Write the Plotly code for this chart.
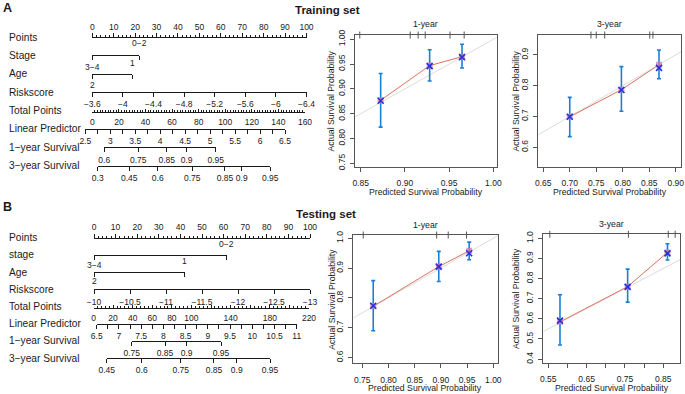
import plotly.graph_objects as go

FONT = "Liberation Sans, Arial, Helvetica, sans-serif"
W, H = 685, 394
INK = "#1a1a1a"
BOX = "#555555"

# ======================= DATA =======================
# ---- Nomogram, training set (A) ----
A_points_ticks = [0, 10, 20, 30, 40, 50, 60, 70, 80, 90, 100]
A_stage_points = [0, 22.0]
A_stage_labels = ["", "0−2"]
A_age_points = [0, 18.7]
A_age_labels = ["3−4", "1"]
A_risk_values = [-3.6, -4.0, -4.4, -4.8, -5.2, -5.6, -6.0, -6.4]
A_risk_labels = ["−3.6", "−4", "−4.4", "−4.8", "−5.2", "−5.6", "−6", "−6.4"]
A_risk_top_label = "2"
A_total_ticks = [0, 20, 40, 60, 80, 100, 120, 140, 160]
A_total_labels = ["0", "20", "40", "60", "80", "100", "120", "140", "160"]
A_lp_ticks = [2.5, 3, 3.5, 4, 4.5, 5, 5.5, 6, 6.5]
A_lp_labels = ["2.5", "3", "3.5", "4", "4.5", "5", "5.5", "6", "6.5"]
A_surv1_labels = ["0.6", "0.75", "0.85", "0.9", "0.95"]
A_surv1_total = [9.0, 34.6, 56.0, 71.0, 92.8]
A_surv3_labels = ["0.3", "0.45", "0.6", "0.75", "0.85", "0.9", "0.95"]
A_surv3_total = [4.1, 27.8, 49.2, 75.2, 99.8, 112.4, 133.8]

# ---- Nomogram, testing set (B) ----
B_points_ticks = [0, 10, 20, 30, 40, 50, 60, 70, 80, 90, 100]
B_stage_points = [0, 61.4]
B_stage_labels = ["", "0−2"]
B_age_points = [0, 42.1]
B_age_labels = ["3−4", "1"]
B_risk_values = [-10, -10.5, -11, -11.5, -12, -12.5, -13]
B_risk_labels = ["−10", "−10.5", "−11", "−11.5", "−12", "−12.5", "−13"]
B_risk_top_label = "2"
B_total_ticks = [0, 20, 40, 60, 80, 100, 120, 140, 160, 180, 200, 220]
B_total_labels = ["0", "20", "40", "60", "80", "100", "", "140", "", "180", "", "220"]
B_lp_ticks = [6.5, 7, 7.5, 8, 8.5, 9, 9.5, 10, 10.5, 11]
B_lp_labels = ["6.5", "7", "7.5", "8", "8.5", "9", "9.5", "10", "10.5", "11"]
B_surv1_labels = ["0.75", "0.85", "0.9", "0.95"]
B_surv1_total = [39.0, 73.0, 95.1, 130.2]
B_surv3_labels = ["0.45", "0.6", "0.75", "0.85", "0.9", "0.95"]
B_surv3_total = [13.5, 49.2, 89.0, 123.0, 146.2, 180.2]

# ---- Calibration curves ----
A1_pred = [0.8726, 0.928, 0.9646]
A1_obs = [0.877, 0.947, 0.965]
A1_corr = [0.876, 0.946, 0.964]
A1_lo = [0.823, 0.916, 0.942]
A1_hi = [0.931, 0.979, 0.990]
A1_rug = [0.849, 0.906, 0.915, 0.923, 0.951, 0.967]
A1_xticks = [0.85, 0.90, 0.95, 1.00]
A1_xlabels = ["0.85", "0.90", "0.95", "1.00"]
A1_yticks = [0.75, 0.80, 0.85, 0.90, 0.95, 1.00]
A1_ylabels = ["0.75", "0.80", "0.85", "0.90", "0.95", "1.00"]

A3_pred = [0.700, 0.7975, 0.8685]
A3_obs = [0.699, 0.787, 0.868]
A3_corr = [0.699, 0.786, 0.858]
A3_lo = [0.6345, 0.717, 0.8226]
A3_hi = [0.762, 0.862, 0.916]
A3_rug = [0.740, 0.750, 0.766, 0.851, 0.857]
A3_xticks = [0.65, 0.70, 0.75, 0.80, 0.85, 0.90]
A3_xlabels = ["0.65", "0.70", "0.75", "0.80", "0.85", "0.90"]
A3_yticks = [0.6, 0.7, 0.8, 0.9]
A3_ylabels = ["0.6", "0.7", "0.8", "0.9"]

B1_pred = [0.771, 0.896, 0.954]
B1_obs = [0.772, 0.905, 0.958]
B1_corr = [0.774, 0.905, 0.950]
B1_lo = [0.690, 0.855, 0.928]
B1_hi = [0.858, 0.956, 0.987]
B1_rug = [0.752, 0.892, 0.914, 0.949]
B1_xticks = [0.75, 0.80, 0.85, 0.90, 0.95, 1.00]
B1_xlabels = ["0.75", "0.80", "0.85", "0.90", "0.95", "1.00"]
B1_yticks = [0.6, 0.7, 0.8, 0.9, 1.0]
B1_ylabels = ["0.6", "0.7", "0.8", "0.9", "1.0"]

B3_pred = [0.5805, 0.757, 0.861]
B3_obs = [0.585, 0.760, 0.930]
B3_corr = [0.591, 0.759, 0.925]
B3_lo = [0.470, 0.683, 0.892]
B3_hi = [0.720, 0.847, 0.973]
B3_rug = [0.554, 0.759, 0.863, 0.881]
B3_xticks = [0.55, 0.60, 0.65, 0.70, 0.75, 0.80, 0.85]
B3_xlabels = ["0.55", "", "0.65", "", "0.75", "", "0.85"]
B3_yticks = [0.4, 0.5, 0.6, 0.7, 0.8, 0.9, 1.0]
B3_ylabels = ["0.4", "0.5", "0.6", "0.7", "0.8", "0.9", "1.0"]

# ======================= FIGURE =======================
fig = go.Figure()
layout = {}
annotations = []


def py(ypx):
    return 1 - ypx / H


def ann(text, xpx, ypx, size, xanchor="center", bold=False, angle=0, xref="paper", xval=None):
    annotations.append(dict(
        text=("<b>%s</b>" % text) if bold else text,
        x=xval if xval is not None else xpx / W, xref=xref,
        y=py(ypx), yref="paper", xanchor=xanchor, yanchor="middle",
        showarrow=False, textangle=angle,
        font=dict(family=FONT, size=size, color=INK)))


# hidden y axis used by all nomogram scales
layout["yaxis5"] = dict(domain=[0, 1], range=[0, 1], visible=False, fixedrange=True,
                        anchor="free", position=0, automargin=False)
axis_counter = [5]


def scale(vals, texts, rng, px0, px1, ypx, side="bottom", ticks="outside", ticklen=4,
          showlabels=True, minor=None, standoff=0, size=8.5):
    axis_counter[0] += 1
    n = axis_counter[0]
    ax = dict(domain=[px0 / W, px1 / W], range=rng, anchor="free", position=py(ypx),
              side=side, showline=True, linecolor=INK, linewidth=1,
              ticks=ticks, ticklen=ticklen, tickwidth=1, tickcolor=INK,
              tickmode="array", tickvals=vals, ticktext=texts, showticklabels=showlabels,
              tickfont=dict(family=FONT, size=size, color=INK), tickangle=0,
              showgrid=False, zeroline=False, fixedrange=True, automargin=False,
              ticklabelstandoff=standoff)
    if minor:
        ax["minor"] = minor
    layout["xaxis%d" % n] = ax
    fig.add_trace(go.Scatter(x=[], y=[], xaxis="x%d" % n, yaxis="y5",
                             showlegend=False, hoverinfo="skip"))
    return "x%d" % n


def minor_ticks(dtick, direction, length=2):
    return dict(tickmode="linear", tick0=0, dtick=dtick, ticks=direction, ticklen=length,
                tickwidth=1, tickcolor=INK, showgrid=False)


def nomogram(cfg, d):
    r = cfg["rows"]
    for nm, yy in zip(cfg["names"], cfg["name_y"]):
        ann(nm, 7, yy, 10.2, xanchor="left")
    p0, p1 = cfg["points_px"]
    t0, t1 = cfg["total_px"]
    # Points
    scale(d["points"], [str(v) for v in d["points"]], [d["points"][0], d["points"][-1]],
          p0, p1, r[0], side="top", ticks="outside", ticklen=4,
          minor=minor_ticks(2, "outside", 2))
    ppx = lambda v: p0 + (p1 - p0) * v / (d["points"][-1] - d["points"][0])
    # Stage
    xa = scale(d["stage_pts"], ["", ""], [d["stage_pts"][0], d["stage_pts"][-1]],
               ppx(d["stage_pts"][0]), ppx(d["stage_pts"][-1]), r[1], showlabels=False)
    for v, t in zip(d["stage_pts"], d["stage_lab"]):
        if t:
            ann(t, 0, r[1] - cfg["stage_off"], 8.5, xref=xa, xval=v)
    # Age
    xa = scale(d["age_pts"], ["", ""], [d["age_pts"][0], d["age_pts"][-1]],
               ppx(d["age_pts"][0]), ppx(d["age_pts"][-1]), r[2], showlabels=False)
    for v, t, off in zip(d["age_pts"], d["age_lab"], cfg["age_off"]):
        ann(t, 0, r[2] - off, 8.5, xref=xa, xval=v)
    # Riskscore
    xa = scale(d["risk"], d["risk_lab"], [d["risk"][0], d["risk"][-1]], p0, p1, r[3],
               standoff=cfg["risk_standoff"])
    ann(d["risk_top"], 0, r[3] - cfg["risk_top_off"], 8.5, xref=xa, xval=d["risk"][0])
    # Total points
    tot = d["total"]
    scale(tot, d["total_lab"], [tot[0], tot[-1]], t0, t1, r[4], ticks="inside", ticklen=3,
          minor=minor_ticks(cfg["total_minor"], "inside", 2), standoff=2)
    tpx = lambda v: t0 + (t1 - t0) * v / (tot[-1] - tot[0])
    # Linear predictor
    l0, l1 = cfg["lp_px"]
    scale(d["lp"], d["lp_lab"], [d["lp"][0], d["lp"][-1]], l0, l1, r[5],
          minor=minor_ticks(0.25, "outside", 4))
    # survival rows
    for k, (vals, labs) in enumerate([(d["s1"], d["s1_lab"]), (d["s3"], d["s3_lab"])]):
        scale(vals, labs, [vals[0], vals[-1]], tpx(vals[0]), tpx(vals[-1]), r[6 + k])


rowsA = [37 + 18.4 * k for k in range(8)]
rowsA[4] += 1.5
rowsB = [237.7 + 17.2 * k for k in range(8)]
rowsB[4] += 1.0
NAMES_A = ["Points", "Stage", "Age", "Riskscore", "Total Points", "Linear Predictor",
           "1−year Survival", "3−year Survival"]
NAMES_B = ["Points", "stage", "Age", "Riskscore", "Total Points", "Linear Predictor",
           "1−year Survival", "3−year Survival"]

nomogram(dict(rows=rowsA, names=NAMES_A, name_y=[37 + 18.4 * k for k in range(8)],
              points_px=(92.3, 306.5), total_px=(92.3, 305.0), lp_px=(85.3, 285.0),
              stage_off=12.4, age_off=[7, 11], risk_top_off=7.5, risk_standoff=0, total_minor=2),
         dict(points=A_points_ticks, stage_pts=A_stage_points, stage_lab=A_stage_labels,
              age_pts=A_age_points, age_lab=A_age_labels, risk=A_risk_values,
              risk_lab=A_risk_labels, risk_top=A_risk_top_label, total=A_total_ticks,
              total_lab=A_total_labels, lp=A_lp_ticks, lp_lab=A_lp_labels,
              s1=A_surv1_total, s1_lab=A_surv1_labels, s3=A_surv3_total, s3_lab=A_surv3_labels))

nomogram(dict(rows=rowsB, names=NAMES_B, name_y=[237.7 + 17.2 * k for k in range(8)],
              points_px=(94.0, 310.0), total_px=(93.5, 309.0), lp_px=(96.7, 296.7),
              stage_off=10.6, age_off=[7, 11], risk_top_off=8.3, risk_standoff=0, total_minor=4),
         dict(points=B_points_ticks, stage_pts=B_stage_points, stage_lab=B_stage_labels,
              age_pts=B_age_points, age_lab=B_age_labels, risk=B_risk_values,
              risk_lab=B_risk_labels, risk_top=B_risk_top_label, total=B_total_ticks,
              total_lab=B_total_labels, lp=B_lp_ticks, lp_lab=B_lp_labels,
              s1=B_surv1_total, s1_lab=B_surv1_labels, s3=B_surv3_total, s3_lab=B_surv3_labels))

# ---- calibration panels ----
panels = [
    dict(n=1, title="1-year", pred=A1_pred, obs=A1_obs, corr=A1_corr, lo=A1_lo, hi=A1_hi,
         rug=A1_rug, xt=A1_xticks, xtl=A1_xlabels, yt=A1_yticks, ytl=A1_ylabels,
         xr=[0.8436, 1.0038], yr=[0.7431, 1.0087], box=(355.0, 496.7, 35.0, 166.7),
         title_y=24, xlab_y=192.3, ylab_x=330.7),
    dict(n=2, title="3-year", pred=A3_pred, obs=A3_obs, corr=A3_corr, lo=A3_lo, hi=A3_hi,
         rug=A3_rug, xt=A3_xticks, xtl=A3_xlabels, yt=A3_yticks, ytl=A3_ylabels,
         xr=[0.6406, 0.910], yr=[0.537, 0.9645], box=(538.3, 681.0, 35.0, 166.7),
         title_y=24, xlab_y=192.3, ylab_x=515.7),
    dict(n=3, title="1-year", pred=B1_pred, obs=B1_obs, corr=B1_corr, lo=B1_lo, hi=B1_hi,
         rug=B1_rug, xt=B1_xticks, xtl=B1_xlabels, yt=B1_yticks, ytl=B1_ylabels,
         xr=[0.733, 1.008], yr=[0.581, 1.011], box=(353.3, 497.5, 235.0, 363.3),
         title_y=225, xlab_y=387.7, ylab_x=331.7),
    dict(n=4, title="3-year", pred=B3_pred, obs=B3_obs, corr=B3_corr, lo=B3_lo, hi=B3_hi,
         rug=B3_rug, xt=B3_xticks, xtl=B3_xlabels, yt=B3_yticks, ytl=B3_ylabels,
         xr=[0.537, 0.8936], yr=[0.383, 1.02], box=(543.3, 680.0, 234.3, 362.5),
         title_y=224.3, xlab_y=387.7, ylab_x=516.7),
]

for p in panels:
    n = p["n"]
    sx = "" if n == 1 else str(n)
    xa, ya = "x" + sx, "y" + sx
    l, rr, t, b = p["box"]
    common = dict(showline=True, mirror=True, linecolor=BOX, linewidth=1, ticks="outside",
                  ticklen=4, tickwidth=1, tickcolor=BOX, showgrid=False, zeroline=False,
                  fixedrange=True, tickmode="array", automargin=False,
                  tickfont=dict(family=FONT, size=8.5, color=INK))
    layout["xaxis" + sx] = dict(common, domain=[l / W, rr / W], range=p["xr"], anchor=ya,
                                tickvals=p["xt"], ticktext=p["xtl"], tickangle=0,
                                ticklabelstandoff=4)
    layout["yaxis" + sx] = dict(common, domain=[py(b), py(t)], range=p["yr"], anchor=xa,
                                tickvals=p["yt"], ticktext=p["ytl"], tickangle=-90,
                                ticklabelstandoff=2)
    # reference diagonal
    fig.add_trace(go.Scatter(x=[0, 1.1], y=[0, 1.1], mode="lines", xaxis=xa, yaxis=ya,
                             line=dict(color="#dcdcdc", width=1), hoverinfo="skip"))
    # error bars
    fig.add_trace(go.Scatter(
        x=p["pred"], y=p["obs"], mode="markers", xaxis=xa, yaxis=ya,
        marker=dict(size=1, color="rgba(0,0,0,0)"),
        error_y=dict(type="data", symmetric=False,
                     array=[h - o for h, o in zip(p["hi"], p["obs"])],
                     arrayminus=[o - lo for o, lo in zip(p["obs"], p["lo"])],
                     color="#1b7fd6", thickness=1.6, width=2)))
    # observed line
    fig.add_trace(go.Scatter(x=p["pred"], y=p["obs"], mode="lines", xaxis=xa, yaxis=ya,
                             line=dict(color="#d9725e", width=1)))
    fig.add_trace(go.Scatter(x=p["pred"], y=p["obs"], mode="markers", xaxis=xa, yaxis=ya,
                             marker=dict(symbol="square", size=6,
                                         color="rgba(214,120,170,0.75)")))
    # bias-corrected estimates
    fig.add_trace(go.Scatter(x=p["pred"], y=p["corr"], mode="markers", xaxis=xa, yaxis=ya,
                             marker=dict(symbol="x-thin", size=6,
                                         line=dict(color="#2630e0", width=1.6))))
    # rug of predictions along the top
    fig.add_trace(go.Scatter(x=p["rug"], y=[p["yr"][1]] * len(p["rug"]), mode="markers",
                             xaxis=xa, yaxis=ya, cliponaxis=False,
                             marker=dict(symbol="line-ns", size=5,
                                         line=dict(color=BOX, width=1))))
    # titles
    ann(p["title"], (l + rr) / 2, p["title_y"], 8.7)
    ann("Predicted Survival Probability", (l + rr) / 2, p["xlab_y"], 8.7)
    ann("Actual Survival Probability", p["ylab_x"], (t + b) / 2, 8.7, angle=-90)

# ---- panel headings ----
ann("A", 8, 8, 12.5, bold=True)
ann("Training set", 327, 10.5, 11.5, bold=True)
ann("B", 8, 207, 12.5, bold=True)
ann("Testing set", 325.5, 214, 11.5, bold=True)

fig.update_traces(showlegend=False)
fig.update_layout(width=W, height=H, margin=dict(l=0, r=0, t=0, b=0, pad=0),
                  autosize=False, paper_bgcolor="white", plot_bgcolor="rgba(0,0,0,0)",
                  showlegend=False, font=dict(family=FONT, color=INK),
                  annotations=annotations, hovermode=False, **layout)
fig.write_html("out.html",
               config={"displayModeBar": False, "staticPlot": True},
               post_script="document.body.style.margin='0';"
                           "document.body.style.overflow='hidden';")
